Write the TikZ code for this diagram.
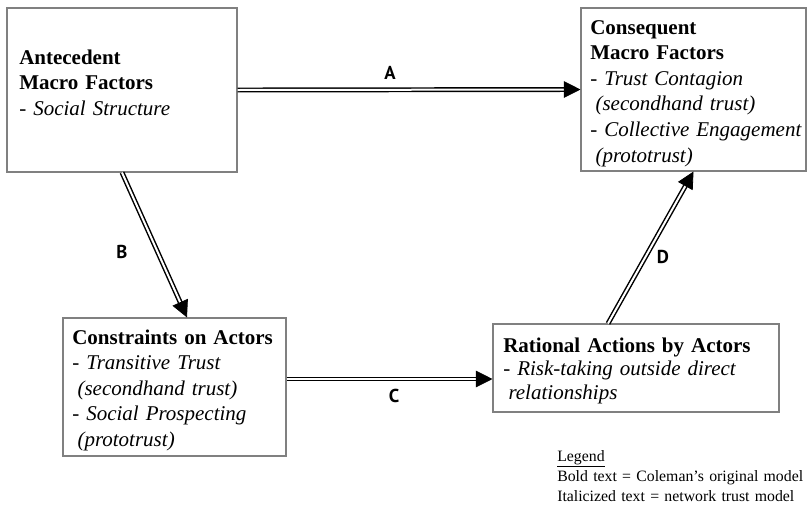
\documentclass[tikz,border=0pt]{standalone}
\usepackage{fontspec}
\setmainfont{Liberation Serif}
\newfontfamily\labfont{PT Sans}
\usetikzlibrary{arrows.meta,calc}
\newcommand\dblarrow[2]{%
  \draw[dbl, shorten >=10pt] (#1) -- (#2);
  \draw[tiponly] ($(#2)!11pt!(#1)$) -- (#2);}
\begin{document}
\begin{tikzpicture}[x=0.75pt,y=-0.75pt,
  box/.style={draw=black!50, line width=0.8pt, inner sep=0pt},
  txt/.style={anchor=base west, inner sep=0pt, align=left, text width=215*0.75pt,
              font=\fontsize{15.75pt}{19.2pt}\selectfont},
  lab/.style={font=\labfont\bfseries\fontsize{14pt}{14pt}\selectfont, inner sep=0pt},
  dbl/.style={line width=1.1pt, double distance=1.5pt},
  tiponly/.style={line width=0.6pt, -{Triangle[length=12.5pt,width=12.5pt]}},
  legtxt/.style={anchor=base west, inner sep=0pt, align=left, text width=250*0.75pt,
              font=\fontsize{11.85pt}{15pt}\selectfont}]
\useasboundingbox[fill=white] (0,0) rectangle (807,504);

% boxes
\node[box, minimum width=230*0.75pt, minimum height=164*0.75pt] (ante) at (122,90) {};
\node[box, minimum width=225*0.75pt, minimum height=163*0.75pt] (cons) at (693.5,89.5) {};
\node[box, minimum width=223*0.75pt, minimum height=138*0.75pt] (constr) at (174.5,387) {};
\node[box, minimum width=286*0.75pt, minimum height=88*0.75pt] (rat) at (636,368) {};

% box texts
\node[txt] (anteT) at (19,64) {\textbf{Antecedent}\\\textbf{Macro Factors}\\- \textit{Social Structure}};
\node[txt] (consT) at (590,34) {\textbf{Consequent}\\\textbf{Macro Factors}\\- \textit{Trust Contagion}\\\hspace*{0.25em}\textit{(secondhand trust)}\\- \textit{Collective Engagement}\\\hspace*{0.25em}\textit{(prototrust)}};
\node[txt] (constrT) at (72,344) {\textbf{Constraints on Actors}\\- \textit{Transitive Trust}\\\hspace*{0.25em}\textit{(secondhand trust)}\\- \textit{Social Prospecting}\\\hspace*{0.25em}\textit{(prototrust)}};
\node[txt, text width=280*0.75pt, font=\fontsize{15.75pt}{17.8pt}\selectfont] (ratT) at (503,352) {\textbf{Rational Actions by Actors}\\- \textit{Risk-taking outside direct}\\\hspace*{0.25em}\textit{relationships}};

% connectors
\coordinate (aStart) at (ante.east);
\coordinate (aEnd) at (cons.west);
\coordinate (bStart) at (ante.south);
\coordinate (bEnd) at ([xshift=12.5*0.75pt]constr.north);
\coordinate (cEnd) at ([yshift=-11*0.75pt]rat.west);
\coordinate (cStart) at (constr.east |- cEnd);
\coordinate (dStart) at ([xshift=-28*0.75pt]rat.north);
\coordinate (dEnd) at (cons.south);
\dblarrow{aStart}{aEnd}
\dblarrow{bStart}{bEnd}
\dblarrow{cStart}{cEnd}
\dblarrow{dStart}{dEnd}

% connector labels
\node[lab] (labA) at (390,73) {A};
\node[lab] (labB) at (122,252) {B};
\node[lab] (labC) at (394,396) {C};
\node[lab] (labD) at (663,257) {D};

% legend
\node[legtxt] (legend) at (557,461) {\underline{Legend}\\Bold text = Coleman’s original model\\Italicized text = network trust model};
\end{tikzpicture}
\end{document}
